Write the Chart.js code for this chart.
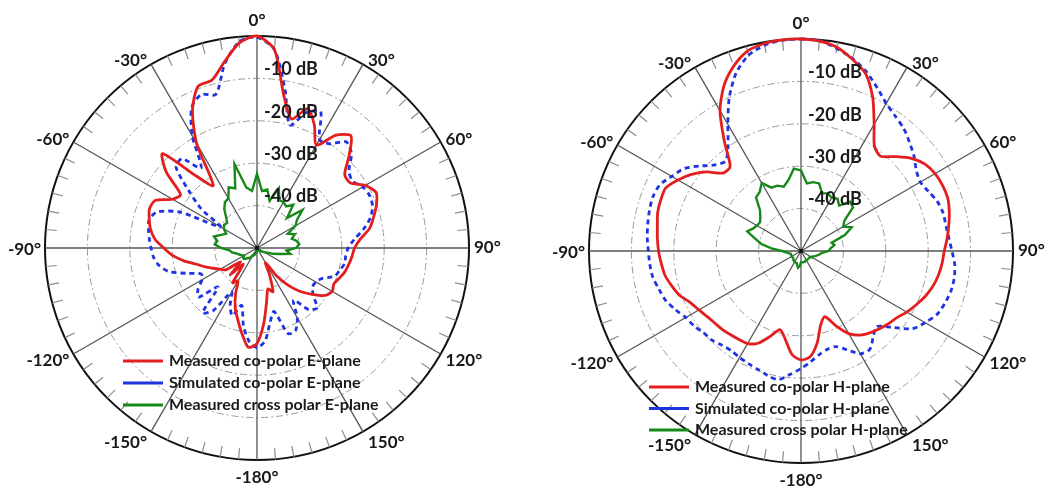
<!DOCTYPE html>
<html>
<head>
<meta charset="utf-8">
<script src="https://cdn.jsdelivr.net/npm/chart.js@4.4.1/dist/chart.umd.min.js"></script>
<style>
  html, body { margin: 0; padding: 0; background: #fff; }
  #wrap { position: relative; width: 1062px; height: 489px; overflow: hidden; }
  canvas { position: absolute; top: 0; }
  #left { left: 0; }
  #right { left: 531px; }
</style>
</head>
<body>
<div id="wrap">
  <canvas id="left" width="512" height="489"></canvas>
  <canvas id="right" width="531" height="489"></canvas>
</div>
<script>
// Angles in degrees, clockwise from the top (0°)
const angles = [0, 5, 10, 15, 20, 25, 30, 35, 40, 45, 50, 55, 60, 65, 70, 75, 80, 85,
  90, 95, 100, 105, 110, 115, 120, 125, 130, 135, 140, 145, 150, 155, 160, 165, 170, 175,
  180, 185, 190, 195, 200, 205, 210, 215, 220, 225, 230, 235, 240, 245, 250, 255, 260, 265,
  270, 275, 280, 285, 290, 295, 300, 305, 310, 315, 320, 325, 330, 335, 340, 345, 350, 355];

const angleTickLabels = ['0°', '30°', '60°', '90°', '120°', '150°', '-180°', '-150°', '-120°', '-90°', '-60°', '-30°'];
const ringValues = [-10, -20, -30, -40];
const ringLabels = ['-10 dB', '-20 dB', '-30 dB', '-40 dB'];

// E-plane (dB)
const eMeasuredCo = [0, -3, -13.5, -18.5, -15, -18, -22, -17.5, -15.5, -19.3, -23, -23.2,
  -20.5, -19, -20, -21.5, -23, -25.5, -27, -27.5, -28, -28.5, -29.3, -30,
  -29.5, -30.5, -33, -35.5, -38.5, -42, -46, -43, -39, -40, -37, -32,
  -27.5, -26.5, -29.5, -32.5, -35, -38, -41, -40, -45, -41, -45, -41,
  -40, -38.7, -37, -35.2, -32.5, -30, -28, -25.8, -24.5, -23.7, -23, -23.5,
  -27, -28, -22, -18.5, -28, -32, -21.5, -14, -9.4, -9, -5.5, -1.5];
const eSimulatedCo = [-0.3, -3, -12, -20, -16, -14.5, -20.5, -20, -17.3, -18.5, -21.7, -22.5,
  -21.2, -20.7, -21, -22.3, -24.5, -27, -28.5, -29, -29, -29.8, -30.5, -33,
  -34, -34, -32.7, -30, -31, -35, -31, -28.5, -28.5, -34.5, -32.2, -28,
  -26.5, -28, -31.5, -36, -33, -35, -38, -32, -30, -37, -32, -33,
  -35, -35.5, -32.5, -28.5, -26.5, -25.5, -25, -24.5, -24, -23.7, -25, -30,
  -40, -34, -29, -23, -22.5, -27, -19.5, -13.5, -11.5, -12.5, -6, -1.2];
const eMeasuredCross = [-32.5, -36.5, -36, -38.5, -35, -37.5, -37.5, -38, -36.7, -40, -36, -38.5,
  -39.5, -42, -40.5, -41.5, -40.5, -40, -40.8, -43, -42, -44.5, -46, -47.5,
  -48, -48.5, -49, -49, -49.5, -49.5, -49.5, -49.5, -49.5, -49.5, -49.5, -49.5,
  -49.5, -49, -49, -48.5, -48.5, -48, -48, -47, -47, -46.5, -46, -46,
  -46.5, -46, -45.5, -45, -44, -43.5, -41.5, -40, -40.5, -39.5, -41, -42,
  -41, -40.5, -40.8, -39.7, -38, -36.8, -36.5, -34.2, -35, -29.5, -35.5, -36.5];

// H-plane (dB)
const hMeasuredCo = [0, -0.3, -1.2, -3.2, -5.5, -10, -15.5, -19.8, -20.8, -18.5, -16, -14.3,
  -13.5, -13.2, -13.2, -13.8, -14.6, -15.4, -16.2, -16.6, -17.1, -17.8, -18.8, -20,
  -21.2, -22.5, -23.2, -24, -24.8, -25.8, -27.5, -30.5, -33.5, -32, -28, -25,
  -24.3, -25.5, -28.8, -30.8, -28.5, -26, -24.8, -24.5, -24.2, -23.8, -23.5, -23,
  -22.2, -21.2, -19.5, -18.4, -17.4, -16.9, -16.4, -16, -15.6, -15, -14.8, -14.8,
  -16.5, -18.5, -21, -24, -24, -18.5, -11.8, -7, -3.6, -1.2, -0.3, 0];
const hSimulatedCo = [0, -0.2, -1.5, -3, -5, -7.5, -9.8, -11.2, -12.3, -13.8, -15.2, -16.8,
  -17.5, -16.8, -15.8, -15.3, -15.3, -15, -14.4, -13.6, -13.3, -13.4, -13.9, -14.6,
  -16.2, -18, -22, -24.8, -23.5, -21.7, -22, -24.3, -26, -26, -25.2, -23.8,
  -22.3, -20.8, -19.2, -19.6, -20.3, -20.7, -21, -21.3, -21, -20.3, -20, -19.2,
  -18.6, -17.3, -16, -15.3, -14.5, -14.2, -14, -13.6, -13.3, -13, -12.8, -13.2,
  -14.8, -16.2, -18.8, -21.3, -22.3, -20, -15.5, -10, -5.3, -2.2, -0.7, -0.1];
const hMeasuredCross = [-31, -34, -33.5, -33.5, -35.5, -35, -35.5, -35, -36, -33.6, -34, -37.5,
  -38.5, -36.8, -39, -42.5, -42, -43, -43.5, -45, -45.5, -46, -46.5, -47,
  -47, -47.5, -47.5, -47.5, -47.5, -47.5, -47.5, -47.5, -47.3, -47.3, -47.3, -47.3,
  -47.3, -46.5, -46, -46.5, -47, -47, -47, -47.2, -47.2, -47.5, -47.5, -47.5,
  -47.5, -47.5, -47.5, -47.5, -47, -46.5, -45.5, -43, -40.5, -38.8, -36.5, -37.5,
  -38, -38.2, -37.5, -36.3, -33.5, -33, -31.5, -33.5, -33.6, -34.3, -33, -30.5];

const RED = '#e31e1e';
const BLUE = '#1f33e0';
const GREEN = '#17891a';
const TEXT = '#1a1a1a';

// ticks on the rim, angle labels, ring labels and the legend
const polarDecor = {
  id: 'polarDecor',
  beforeDatasetsDraw(chart) {
    const r = chart.scales.r;
    const ctx = chart.ctx;
    const R = r.drawingArea;
    ctx.save();
    ctx.strokeStyle = '#8c8c8c';
    ctx.lineWidth = 1.2;
    angles.forEach((a, i) => {
      if (a % 30 === 0) return;
      const p1 = r.getPointPosition(i, R);
      const p2 = r.getPointPosition(i, R - 11);
      ctx.beginPath();
      ctx.moveTo(p1.x, p1.y);
      ctx.lineTo(p2.x, p2.y);
      ctx.stroke();
    });
    ctx.restore();
  },
  afterDatasetsDraw(chart, args, opts) {
    const r = chart.scales.r;
    const ctx = chart.ctx;
    const R = r.drawingArea;
    ctx.save();

    // small dot at the centre
    ctx.fillStyle = '#111';
    ctx.beginPath();
    ctx.arc(r.xCenter, r.yCenter, 2.2, 0, Math.PI * 2);
    ctx.fill();

    ctx.fillStyle = TEXT;
    ctx.font = 'bold 18px Lato';
    ctx.textAlign = 'left';
    ctx.textBaseline = 'middle';
    ringValues.forEach((v, k) => {
      const d = r.getDistanceFromCenterForValue(v);
      ctx.fillText(ringLabels[k], r.xCenter + 7, r.yCenter - d - 9);
    });

    ctx.font = 'bold 17px Lato';
    angleTickLabels.forEach((txt, k) => {
      const i = k * 6;
      const a = angles[i];
      const p = r.getPointPosition(i, R);
      const c = Math.cos(a * Math.PI / 180);
      let x = p.x, y = p.y;
      if (a === 0) {
        ctx.textAlign = 'center'; ctx.textBaseline = 'bottom'; y -= 7;
      } else if (a === 180) {
        ctx.textAlign = 'center'; ctx.textBaseline = 'top'; y += 9;
      } else {
        ctx.textAlign = a < 180 ? 'left' : 'right';
        ctx.textBaseline = 'middle';
        x += a < 180 ? 5 : -4;
        y += c > 0 ? -4 * c : 2 - 10 * c;
      }
      ctx.fillText(txt, x, y);
    });

    // legend
    ctx.font = 'bold 16px Lato';
    ctx.textAlign = 'left';
    ctx.textBaseline = 'middle';
    chart.data.datasets.forEach((ds, k) => {
      const x0 = r.xCenter + opts.dx;
      const y0 = r.yCenter + opts.dy + k * opts.gap;
      ctx.strokeStyle = ds.borderColor;
      ctx.lineWidth = 3;
      ctx.setLineDash([]);
      ctx.beginPath();
      ctx.moveTo(x0, y0);
      ctx.lineTo(x0 + 40, y0);
      ctx.stroke();
      ctx.fillStyle = TEXT;
      ctx.fillText(ds.label, x0 + 46, y0);
    });
    ctx.restore();
  }
};

function makeChart(id, labels, series, padding, legendPos) {
  const styles = [
    { borderColor: RED, borderWidth: 2.8, tension: 0.25 },
    { borderColor: BLUE, borderWidth: 2.8, tension: 0.25, borderDash: [5, 4] },
    { borderColor: GREEN, borderWidth: 2.4, tension: 0 }
  ];
  return new Chart(document.getElementById(id), {
    type: 'radar',
    data: {
      labels: angles,
      datasets: series.map((s, k) => Object.assign({
        label: labels[k],
        data: s,
        fill: false,
        pointRadius: 0
      }, styles[k]))
    },
    options: {
      responsive: false,
      animation: false,
      layout: { padding: padding },
      plugins: {
        legend: { display: false },
        tooltip: { enabled: false },
        polarDecor: legendPos
      },
      scales: {
        r: {
          min: -50,
          max: 0,
          ticks: { display: false, stepSize: 10 },
          pointLabels: { display: false },
          grid: {
            circular: true,
            color: c => (c.tick && c.tick.value === 0) ? '#111' : '#9a9a9a',
            lineWidth: c => (c.tick && c.tick.value === 0) ? 2 : 1
          },
          border: {
            dash: c => (c.tick && c.tick.value === 0) ? [] : [7, 3, 2, 3]
          },
          angleLines: {
            color: c => angles[c.index] % 30 === 0 ? '#555' : 'rgba(0,0,0,0)',
            lineWidth: c => angles[c.index] % 30 === 0 ? 1.3 : 0
          }
        }
      }
    },
    plugins: [polarDecor]
  });
}

makeChart('left',
  ['Measured co-polar E-plane', 'Simulated co-polar E-plane', 'Measured cross polar E-plane'],
  [eMeasuredCo, eSimulatedCo, eMeasuredCross],
  { left: 45, right: 43, top: 36, bottom: 29 },
  { dx: -134, dy: 113, gap: 22 });

makeChart('right',
  ['Measured co-polar H-plane', 'Simulated co-polar H-plane', 'Measured cross polar H-plane'],
  [hMeasuredCo, hSimulatedCo, hMeasuredCross],
  { left: 58, right: 49, top: 39, bottom: 26 },
  { dx: -152, dy: 136, gap: 21.5 });
</script>
</body>
</html>
